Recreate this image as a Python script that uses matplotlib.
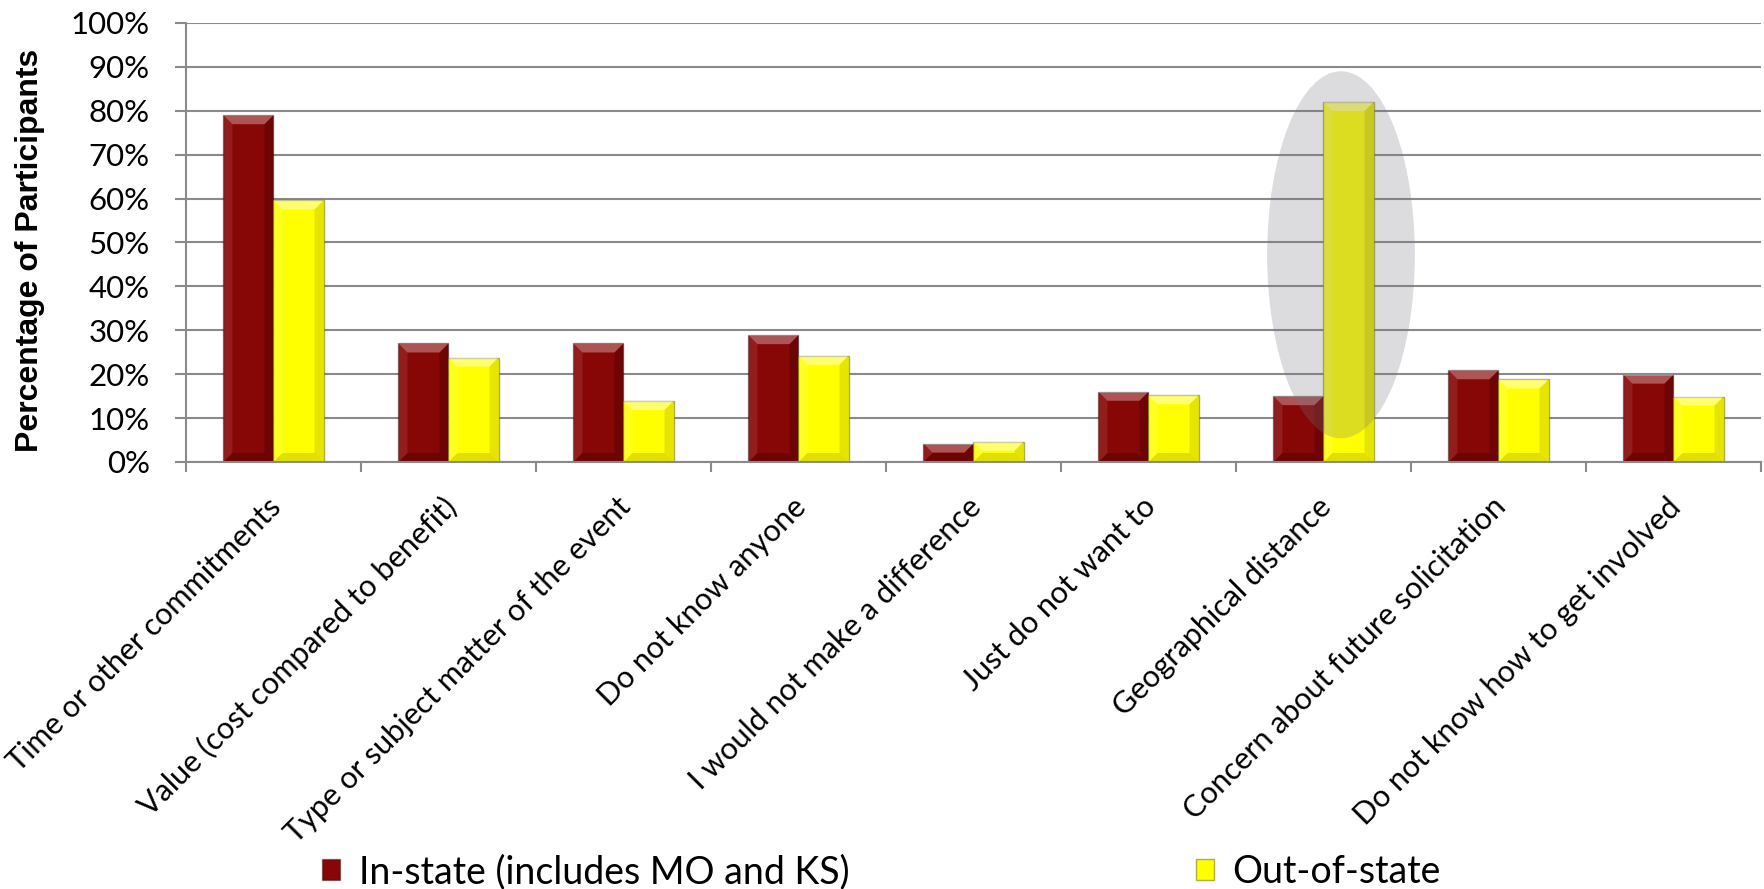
import matplotlib
matplotlib.use('Agg')
import matplotlib.pyplot as plt
import numpy as np
from matplotlib.patches import Ellipse, Patch, Polygon
from matplotlib.ticker import PercentFormatter, FixedLocator
from matplotlib.transforms import ScaledTranslation

# Reasons for not attending, share of participants (%)
categories = [
    'Time or other commitments',
    'Value (cost compared to benefit)',
    'Type or subject matter of the event',
    'Do not know anyone',
    'I would not make a difference',
    'Just do not want to',
    'Geographical distance',
    'Concern about future solicitation',
    'Do not know how to get involved',
]
in_state = [79.0, 27.0, 27.0, 28.9, 4.2, 16.0, 15.0, 20.9, 19.9]
out_state = [59.6, 23.8, 13.9, 24.2, 4.6, 15.2, 82.0, 18.8, 14.9]
series_names = ['In-state (includes MO and KS)', 'Out-of-state']
highlight = 'Geographical distance'

RED = '#870606'
YELLOW = '#ffff00'
GRID = '#8a8a8a'
TICK_FONT = 'Lato'

fig = plt.figure(figsize=(17.65, 8.89), dpi=100)
ax = fig.add_axes([186 / 1765, 1 - 462 / 889, 1575 / 1765, 439 / 889])

x = np.arange(len(categories))
w = 0.286
bars_in = ax.bar(x - w / 2, in_state, w, color=RED, edgecolor=(0, 0, 0, 0.35),
                 linewidth=1, zorder=2)
bars_out = ax.bar(x + w / 2, out_state, w, color=YELLOW, edgecolor=(0.3, 0.3, 0, 0.45),
                  linewidth=1, zorder=2)

ax.set_xlim(-0.5, len(categories) - 0.5)
ax.set_ylim(0, 100)


def add_bevel(bars, top_alpha, side_alpha, bottom_alpha, px=9):
    # bevel size in data units, from a fixed pixel width
    inv = ax.transData.inverted()
    p0 = inv.transform((0, 0))
    p1 = inv.transform((px, px))
    bx, by_full = p1 - p0
    for b in bars:
        x0, h, bw = b.get_x(), b.get_height(), b.get_width()
        by = min(by_full, h / 2)
        x1 = x0 + bw
        top = [(x0, h), (x1, h), (x1 - bx, h - by), (x0 + bx, h - by)]
        bottom = [(x0, 0), (x1, 0), (x1 - bx, by), (x0 + bx, by)]
        left = [(x0, 0), (x0, h), (x0 + bx, h - by), (x0 + bx, by)]
        right = [(x1, 0), (x1, h), (x1 - bx, h - by), (x1 - bx, by)]
        ax.add_patch(Polygon(top, closed=True, facecolor='white', alpha=top_alpha,
                             lw=0, zorder=2.1))
        ax.add_patch(Polygon(bottom, closed=True, facecolor='black', alpha=bottom_alpha,
                             lw=0, zorder=2.1))
        ax.add_patch(Polygon(left, closed=True, facecolor='white', alpha=top_alpha * 0.3,
                             lw=0, zorder=2.1))
        ax.add_patch(Polygon(right, closed=True, facecolor='black', alpha=side_alpha,
                             lw=0, zorder=2.1))


fig.canvas.draw()
add_bevel(bars_in, 0.32, 0.18, 0.2)
add_bevel(bars_out, 0.45, 0.1, 0.12)

# grey highlight around the out-of-state outlier
hx = categories.index(highlight)
ax.add_patch(Ellipse((hx + 0.1, 47.2), 0.844, 83.6, facecolor=(118 / 255, 118 / 255, 133 / 255),
                     alpha=0.255, lw=0, zorder=3))

# axes styling
ax.yaxis.set_major_locator(FixedLocator(np.arange(0, 101, 10)))
ax.yaxis.set_major_formatter(PercentFormatter(100, decimals=0))
ax.yaxis.grid(True, color=GRID, lw=1.5, zorder=0)
ax.set_axisbelow(True)
for s in ['top', 'right']:
    ax.spines[s].set_visible(False)
for s in ['left', 'bottom']:
    ax.spines[s].set_color(GRID)
    ax.spines[s].set_linewidth(1.5)

ax.tick_params(axis='y', length=8, width=1.5, color=GRID, pad=18, labelsize=22.5)
for lab in ax.get_yticklabels():
    lab.set_fontfamily(TICK_FONT)

ax.set_xticks(x)
ax.set_xticklabels(categories, rotation=45, ha='right', va='top',
                   rotation_mode='anchor', fontsize=22, fontfamily=TICK_FONT)
ax.tick_params(axis='x', which='major', length=0, pad=22)
ax.set_xticks(np.arange(-0.5, len(categories)), minor=True)
ax.tick_params(axis='x', which='minor', length=7, width=1.5, color=GRID)
shift = ScaledTranslation(-7 / 100, 0, fig.dpi_scale_trans)
for lab in ax.get_xticklabels():
    lab.set_transform(lab.get_transform() + shift)

fig.text(30 / 1765, 1 - 250 / 889, 'Percentage of Participants', rotation=90,
         ha='center', va='center', fontsize=23, fontweight='bold',
         fontfamily='Liberation Sans')

# legend, one entry per column
handles = [Patch(facecolor=RED, edgecolor=(0, 0, 0, 0.35)),
           Patch(facecolor=YELLOW, edgecolor=(0.3, 0.3, 0, 0.45))]
for h, name, lx in zip(handles, series_names, [322, 1196]):
    leg = fig.legend([h], [name], loc='center left', bbox_to_anchor=(lx / 1765, 1 - 872 / 889),
                     frameon=False, borderpad=0, borderaxespad=0, handlelength=0.48,
                     handleheight=0.48, handletextpad=0.5,
                     prop={'family': TICK_FONT, 'size': 27})

fig.savefig('out.png', dpi=100)
